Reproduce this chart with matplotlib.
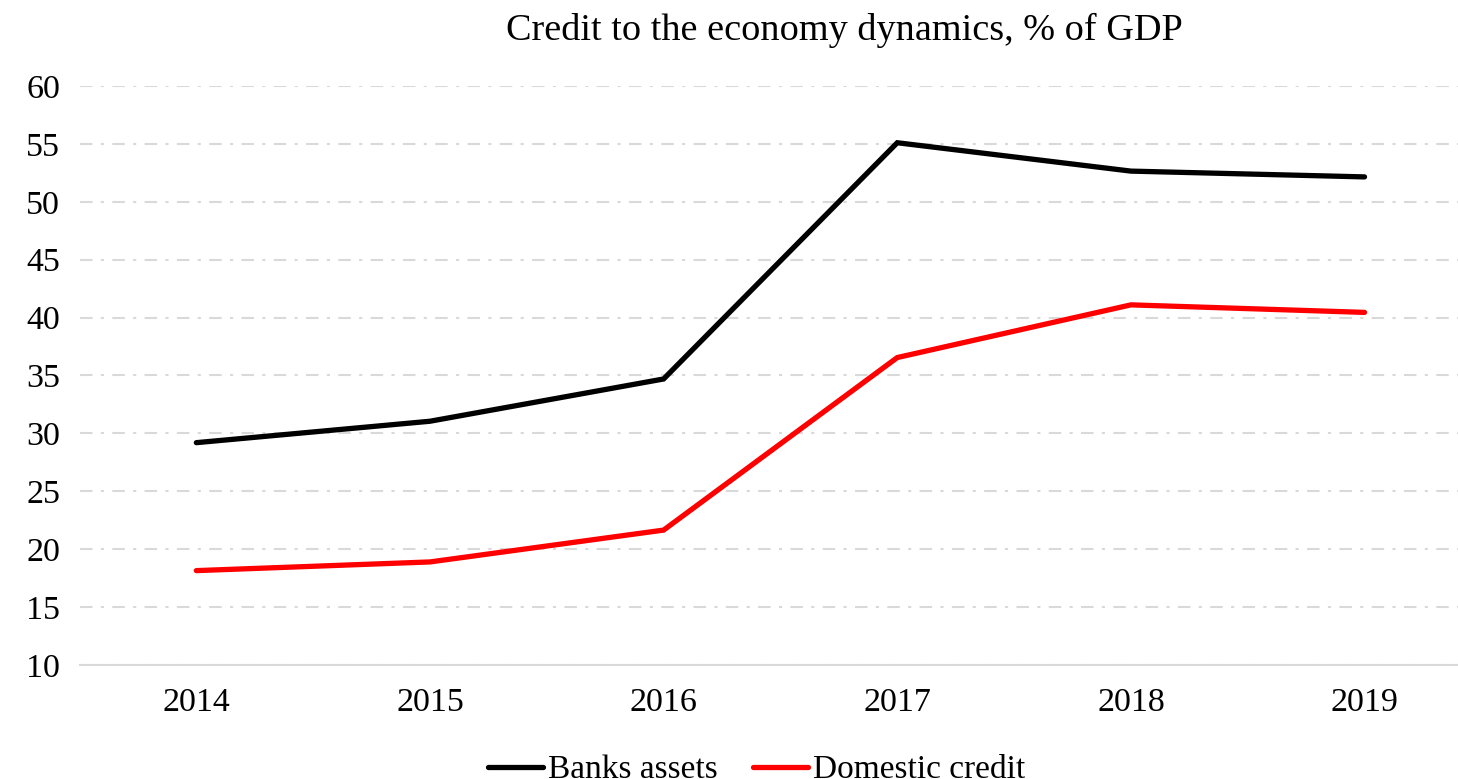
import matplotlib
matplotlib.use("Agg")
import matplotlib.pyplot as plt

years = ["2014", "2015", "2016", "2017", "2018", "2019"]
banks_assets = [29.2, 31.05, 34.7, 55.1, 52.65, 52.15]
domestic_credit = [18.15, 18.9, 21.65, 36.55, 41.1, 40.45]
yticks = [10, 15, 20, 25, 30, 35, 40, 45, 50, 55, 60]

plt.rcParams['font.family'] = ['Liberation Serif', 'DejaVu Serif']

fig = plt.figure(figsize=(14.58, 7.79), dpi=100)
ax = fig.add_axes([79.5/1458, 1-665/779, 1-79.5/1458, (665-86)/779])

x = list(range(len(years)))
ax.plot(x, banks_assets, color='black', lw=3.8, solid_capstyle='round', solid_joinstyle='miter', label='Banks assets', zorder=3)
ax.plot(x, domestic_credit, color='#ff0000', lw=3.8, solid_capstyle='round', solid_joinstyle='miter', label='Domestic credit', zorder=3)

ax.set_xlim(-0.5, 5.40)
ax.set_ylim(10, 60)
ax.set_yticks(yticks)
ax.set_xticks(x)
ax.set_xticklabels(years)
ax.grid(axis='y', color='#d9d9d9', lw=1.5, linestyle=(0, (6, 4, 1.5, 4)))
ax.set_axisbelow(True)
for s in ['top', 'right', 'left']:
    ax.spines[s].set_visible(False)
ax.spines['bottom'].set_color('#d9d9d9')
ax.spines['bottom'].set_linewidth(1.5)
ax.tick_params(axis='both', length=0, labelsize=24.5, colors='black')
ax.tick_params(axis='y', pad=14)
ax.tick_params(axis='x', pad=16)

fig.text(0.579, 1-30/779, "Credit to the economy dynamics, % of GDP", ha='center', va='center', fontsize=27.5)

fig.legend(loc='center', bbox_to_anchor=(0.519, 1-770/779), ncol=2, frameon=False, fontsize=24,
           handlelength=1.65, handletextpad=0.15, columnspacing=1.05)

fig.savefig("out.png", dpi=100)
